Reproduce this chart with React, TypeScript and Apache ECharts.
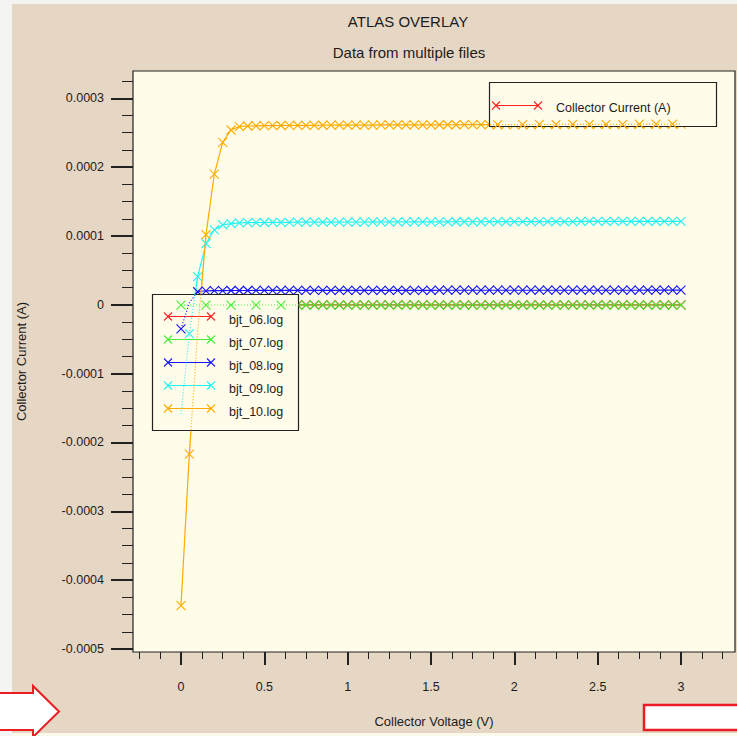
import React, { useEffect, useRef } from "react";
import * as echarts from "echarts";

// ---------- texts ----------
const TITLE = "ATLAS OVERLAY";
const SUBTITLE = "Data from multiple files";
const X_NAME = "Collector Voltage (V)";
const Y_NAME = "Collector Current (A)";
const TOP_LEGEND = "Collector Current (A)";

// ---------- axes ----------
const X_MIN = -0.288;
const X_MAX = 3.324;
const X_MAJOR = [0, 0.5, 1, 1.5, 2, 2.5, 3];
const X_MINOR = [-0.25, -0.125, 0.125, 0.25, 0.375, 0.625, 0.75, 0.875, 1.125, 1.25, 1.375, 1.625, 1.75, 1.875, 2.125, 2.25, 2.375, 2.625, 2.75, 2.875, 3.125, 3.25];
const Y_MIN = -0.0005044;
const Y_MAX = 0.0003397;
const Y_MAJOR = [-0.0005, -0.0004, -0.0003, -0.0002, -0.0001, 0, 0.0001, 0.0002, 0.0003];
const Y_MINOR = [
  -0.000475, -0.00045, -0.000425, -0.000375, -0.00035, -0.000325, -0.000275, -0.00025, -0.000225,
  -0.000175, -0.00015, -0.000125, -0.000075, -0.00005, -0.000025, 0.000025, 0.00005, 0.000075,
  0.000125, 0.00015, 0.000175, 0.000225, 0.00025, 0.000275, 0.000325,
];

// ---------- data (current in microamps) ----------
const UA = 1e-6;
const VOLTAGE = [
  0, 0.05, 0.1, 0.15, 0.2, 0.25, 0.3, 0.35, 0.4, 0.45, 0.5, 0.55, 0.6, 0.65, 0.7, 0.75, 0.8, 0.85, 0.9, 0.95,
  1, 1.05, 1.1, 1.15, 1.2, 1.25, 1.3, 1.35, 1.4, 1.45, 1.5, 1.55, 1.6, 1.65, 1.7, 1.75, 1.8, 1.85, 1.9, 1.95,
  2, 2.05, 2.1, 2.15, 2.2, 2.25, 2.3, 2.35, 2.4, 2.45, 2.5, 2.55, 2.6, 2.65, 2.7, 2.75, 2.8, 2.85, 2.9, 2.95, 3,
];
const BJT_06 = [
  -0.4, -0.2, -0.2, -0.2, -0.2, -0.2, -0.2, -0.2, -0.2, -0.2, -0.2, -0.2, -0.2, -0.2, -0.2, -0.2, -0.2, -0.2, -0.2, -0.2,
  -0.2, -0.2, -0.2, -0.2, -0.2, -0.2, -0.2, -0.2, -0.2, -0.2, -0.2, -0.2, -0.2, -0.2, -0.2, -0.2, -0.2, -0.2, -0.2, -0.2,
  -0.2, -0.2, -0.2, -0.2, -0.2, -0.2, -0.2, -0.2, -0.2, -0.2, -0.2, -0.2, -0.2, -0.2, -0.2, -0.2, -0.2, -0.2, -0.2, -0.2, -0.2,
];
const BJT_07 = [
  -0.5, -0.3, -0.3, -0.3, -0.3, -0.3, -0.3, -0.3, -0.3, -0.3, -0.3, -0.3, -0.3, -0.3, -0.3, -0.3, -0.3, -0.3, -0.3, -0.3,
  -0.3, -0.3, -0.3, -0.3, -0.3, -0.3, -0.3, -0.3, -0.3, -0.3, -0.3, -0.3, -0.3, -0.3, -0.3, -0.3, -0.3, -0.3, -0.3, -0.3,
  -0.3, -0.3, -0.3, -0.3, -0.3, -0.3, -0.3, -0.3, -0.3, -0.3, -0.3, -0.3, -0.3, -0.3, -0.3, -0.3, -0.3, -0.3, -0.3, -0.3, -0.3,
];
const BJT_08 = [
  -35, 3, 19, 20.4, 20.6, 20.7, 20.8, 20.8, 20.8, 20.9, 20.9, 20.9, 20.9, 21.0, 21.0, 21.0, 21.0, 21.0, 21.0, 21.1,
  21.1, 21.1, 21.1, 21.1, 21.1, 21.1, 21.1, 21.1, 21.1, 21.1, 21.1, 21.2, 21.2, 21.2, 21.2, 21.2, 21.2, 21.2, 21.2, 21.2,
  21.2, 21.2, 21.2, 21.2, 21.2, 21.2, 21.2, 21.2, 21.2, 21.2, 21.2, 21.2, 21.2, 21.2, 21.2, 21.2, 21.3, 21.3, 21.3, 21.3, 21.3,
];
const BJT_09 = [
  -159, -42, 41, 89, 109, 116, 118, 119, 119.3, 119.5, 119.6, 119.7, 119.8, 119.9, 120.0, 120.0, 120.1, 120.1, 120.2, 120.2,
  120.3, 120.3, 120.3, 120.4, 120.4, 120.4, 120.5, 120.5, 120.5, 120.6, 120.6, 120.6, 120.6, 120.7, 120.7, 120.7, 120.7, 120.8, 120.8, 120.8,
  120.8, 120.9, 120.9, 120.9, 121.0, 121.0, 121.0, 121.0, 121.1, 121.1, 121.1, 121.1, 121.1, 121.2, 121.2, 121.2, 121.2, 121.3, 121.3, 121.3, 121.3,
];
const BJT_10 = [
  -437, -217, -40, 102, 190, 236, 254, 259, 259.8, 260.1, 260.3, 260.4, 260.5, 260.6, 260.7, 260.8, 260.8, 260.9, 261.0, 261.0,
  261.1, 261.1, 261.2, 261.2, 261.3, 261.3, 261.4, 261.4, 261.5, 261.5, 261.5, 261.6, 261.6, 261.6, 261.7, 261.7, 261.7, 261.8, 261.8, 261.8,
  261.9, 261.9, 261.9, 262.0, 262.0, 262.0, 262.1, 262.1, 262.1, 262.2, 262.2, 262.2, 262.3, 262.3, 262.3, 262.4, 262.4, 262.4, 262.5, 262.5, 262.5,
];
const SERIES_NAMES = ["bjt_06.log", "bjt_07.log", "bjt_08.log", "bjt_09.log", "bjt_10.log"];
const SERIES_VALUES = [BJT_06, BJT_07, BJT_08, BJT_09, BJT_10];
const COLORS = ["#ff2020", "#44ee33", "#1414ff", "#22f4f4", "#ffab00"];

// parts of the curves that show through the opaque legend boxes (dotted, sparse marks)
// [series index, first point index, last point index, marked point indices]
const GHOSTS: [number, number, number, number[]][] = [
  [1, 0, 15, [0, 3, 6, 9, 12]],
  [2, 0, 2, [0]],
  [3, 0, 2, [1]],
  [4, 1, 3, []],
  [4, 36, 60, [38, 41, 43, 45, 47, 49, 51, 53, 55, 57, 59]],
];

const FONT = '"Liberation Sans", Arial, sans-serif';
const TEXT = "#1c1c1c";
const X_SYMBOL = "path://M0,0L8,8M8,0L0,8";

function App() {
  const ref = useRef<HTMLDivElement>(null);
  useEffect(() => {
    document.body.style.margin = "0";
    const chart = echarts.init(ref.current!, null, { renderer: "svg" });

    const series: any[] = SERIES_VALUES.map((vals, si) => ({
      type: "line",
      name: SERIES_NAMES[si],
      z: 2,
      data: VOLTAGE.map((v, i) => [v, vals[i] * UA]),
      symbol: X_SYMBOL,
      symbolSize: 9,
      showSymbol: true,
      showAllSymbol: true,
      lineStyle: { color: COLORS[si], width: 1.2 },
      itemStyle: { color: COLORS[si], borderColor: COLORS[si], borderWidth: 1.1 },
      silent: true,
    }));
    GHOSTS.forEach(([si, a, b, marks]) => {
      const data: any[] = [];
      for (let i = a; i <= b; i++) {
        data.push({
          value: [VOLTAGE[i], SERIES_VALUES[si][i] * UA],
          symbol: marks.includes(i) ? X_SYMBOL : "none",
        });
      }
      series.push({
        type: "line",
        z: 12,
        data,
        symbol: X_SYMBOL,
        symbolSize: 9,
        showAllSymbol: true,
        lineStyle: { color: COLORS[si], width: 1.2, type: [1, 2] },
        itemStyle: { color: COLORS[si], borderColor: COLORS[si], borderWidth: 1.1 },
        silent: true,
      });
    });

    const legendEls: any[] = [];
    const xMark = (cx: number, cy: number, color: string) => [
      { type: "line", z: 11, silent: true, shape: { x1: cx - 4, y1: cy - 4, x2: cx + 4, y2: cy + 4 }, style: { stroke: color, lineWidth: 1.1 } },
      { type: "line", z: 11, silent: true, shape: { x1: cx - 4, y1: cy + 4, x2: cx + 4, y2: cy - 4 }, style: { stroke: color, lineWidth: 1.1 } },
    ];
    const sample = (x1: number, x2: number, y: number, color: string) => [
      { type: "line", z: 11, silent: true, shape: { x1, y1: y, x2, y2: y }, style: { stroke: color, lineWidth: 1.2 } },
      ...xMark(x1, y, color),
      ...xMark(x2, y, color),
    ];
    const ENTRY_Y = [316.5, 339.5, 362.5, 385.5, 408.5];
    SERIES_NAMES.forEach((n, i) => {
      legendEls.push(...sample(168, 211, ENTRY_Y[i], COLORS[i]));
      legendEls.push({
        type: "text", z: 11, silent: true, x: 229, y: ENTRY_Y[i] + 3,
        style: { text: n, fill: TEXT, fontSize: 12.5, fontFamily: FONT, align: "left", verticalAlign: "middle" },
      });
    });
    legendEls.push(...sample(496, 538, 105.5, COLORS[0]));
    legendEls.push({
      type: "text", z: 11, silent: true, x: 556, y: 108,
      style: { text: TOP_LEGEND, fill: TEXT, fontSize: 12.5, fontFamily: FONT, align: "left", verticalAlign: "middle" },
    });

    const tickLabel = (v: number) => (v === 0 ? "0" : String(v));
    const yLabel = (v: number) => (Math.abs(v) < 1e-12 ? "0" : v.toFixed(4));

    chart.setOption({
      animation: false,
      backgroundColor: "#f4f4f2",
      grid: {
        left: 133, top: 71, width: 602, height: 581, show: true,
        backgroundColor: "#fffde9", borderColor: "#222", borderWidth: 1.2,
      },
      xAxis: [
        {
          type: "value", min: X_MIN, max: X_MAX, position: "bottom",
          axisLine: { show: false, onZero: false }, splitLine: { show: false },
          axisTick: { show: true, length: 13, customValues: X_MAJOR, lineStyle: { color: "#222", width: 2 } },
          axisLabel: { customValues: X_MAJOR, margin: 28, fontSize: 12.5, color: TEXT, fontFamily: FONT, formatter: tickLabel },
          name: X_NAME, nameLocation: "middle", nameGap: 63,
          nameTextStyle: { fontSize: 13, color: TEXT, fontFamily: FONT },
        },
        {
          type: "value", min: X_MIN, max: X_MAX, position: "bottom",
          axisLine: { show: false, onZero: false }, splitLine: { show: false },
          axisTick: { show: true, length: 7, customValues: X_MINOR, lineStyle: { color: "#222", width: 1 } },
          axisLabel: { show: false },
        },
      ],
      yAxis: [
        {
          type: "value", min: Y_MIN, max: Y_MAX, position: "left",
          axisLine: { show: false, onZero: false }, splitLine: { show: false },
          axisTick: { show: true, length: 22, customValues: Y_MAJOR, lineStyle: { color: "#222", width: 2 } },
          axisLabel: { customValues: Y_MAJOR, margin: 29, fontSize: 12.5, color: TEXT, fontFamily: FONT, formatter: yLabel },
          name: Y_NAME, nameLocation: "middle", nameGap: 105, nameRotate: 90,
          nameTextStyle: { fontSize: 13, color: TEXT, fontFamily: FONT },
        },
        {
          type: "value", min: Y_MIN, max: Y_MAX, position: "left",
          axisLine: { show: false, onZero: false }, splitLine: { show: false },
          axisTick: { show: true, length: 11, customValues: Y_MINOR, lineStyle: { color: "#222", width: 1 } },
          axisLabel: { show: false },
        },
      ],
      graphic: [
        { type: "rect", z: -10, silent: true, shape: { x: 12, y: 4, width: 725, height: 729 }, style: { fill: "#e6d7c4" } },
        { type: "rect", z: -10, silent: true, shape: { x: 12, y: 733, width: 725, height: 3 }, style: { fill: "#fbf8ec" } },
        {
          type: "text", z: 5, silent: true, x: 408, y: 21,
          style: { text: TITLE, fill: TEXT, fontSize: 15, fontFamily: FONT, align: "center", verticalAlign: "middle" },
        },
        {
          type: "text", z: 5, silent: true, x: 409, y: 52,
          style: { text: SUBTITLE, fill: TEXT, fontSize: 15, fontFamily: FONT, align: "center", verticalAlign: "middle" },
        },
        {
          type: "rect", z: 10, silent: true, shape: { x: 152.5, y: 294.5, width: 146, height: 136 },
          style: { fill: "#fffde9", stroke: "#222", lineWidth: 1.2 },
        },
        {
          type: "rect", z: 10, silent: true, shape: { x: 489.5, y: 82.5, width: 227, height: 44 },
          style: { fill: "#fffde9", stroke: "#222", lineWidth: 1.2 },
        },
        ...legendEls,
        {
          type: "polygon", z: 20, silent: true,
          shape: { points: [[-2, 693], [33, 693], [33, 686], [59, 711.5], [33, 737], [33, 730], [-2, 730]] },
          style: { fill: "#ffffff", stroke: "#ec1c24", lineWidth: 2 },
        },
        {
          type: "rect", z: 20, silent: true, shape: { x: 644, y: 705, width: 100, height: 25 },
          style: { fill: "#ffffff", stroke: "#ec1c24", lineWidth: 2.5 },
        },
      ],
      series,
    });
    return () => chart.dispose();
  }, []);
  return <div ref={ref} style={{ position: "absolute", left: 0, top: 0, width: 737, height: 736 }} />;
}

export default App;
